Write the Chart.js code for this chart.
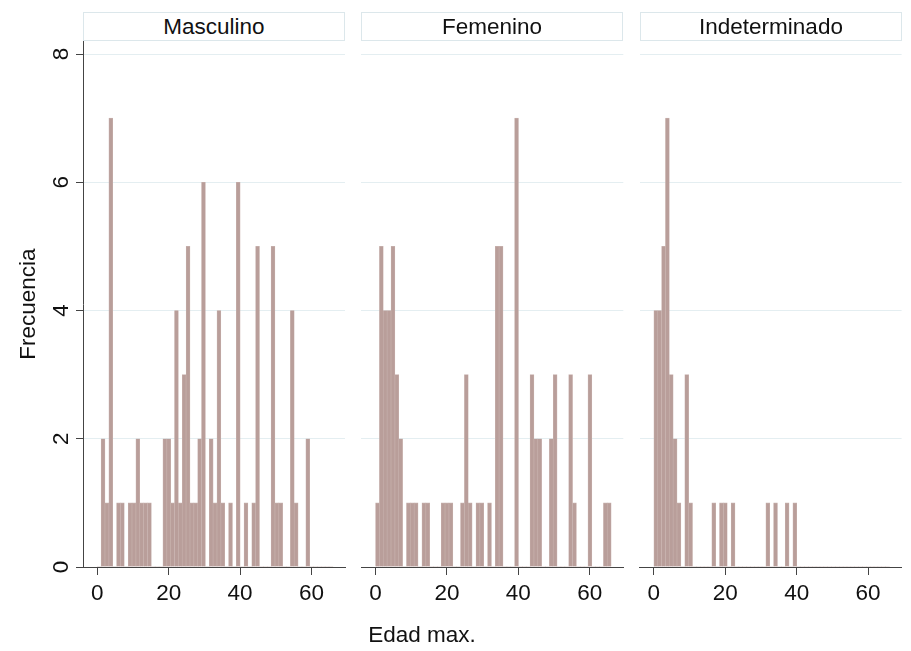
<!DOCTYPE html>
<html>
<head>
<meta charset="utf-8">
<script src="https://cdn.jsdelivr.net/npm/chart.js@4.4.1/dist/chart.umd.min.js"></script>
<style>
html,body{margin:0;padding:0;background:#fff;}
#wrap{position:relative;width:911px;height:651px;overflow:hidden;font-family:"Liberation Sans",Arial,sans-serif;color:#111;background:#fff;}
#wrap canvas{position:absolute;left:0;top:0;}
.hdr{position:absolute;top:12px;height:27px;width:260px;border:1px solid #dce7eb;text-align:center;font-size:22.5px;line-height:28px;color:#111;background:#fff;}
#xt{position:absolute;left:322px;width:200px;top:623px;text-align:center;font-size:22.5px;line-height:24px;color:#111;}
</style>
</head>
<body>
<div id="wrap">
  <canvas id="c1" width="911" height="651"></canvas>
  <canvas id="c2" width="911" height="651"></canvas>
  <canvas id="c3" width="911" height="651"></canvas>
  <div class="hdr" style="left:83px">Masculino</div>
  <div class="hdr" style="left:361px">Femenino</div>
  <div class="hdr" style="left:640px">Indeterminado</div>
  <div id="xt">Edad max.</div>
</div>
<script>
// Bin centres (Edad max.), bin width about 1.08 years
const binCenters = [0.54,1.62,2.71,3.79,4.87,5.95,7.03,8.12,9.20,10.28,
  11.36,12.44,13.53,14.61,15.69,16.77,17.85,18.93,20.02,21.10,
  22.18,23.26,24.34,25.43,26.51,27.59,28.67,29.75,30.84,31.92,
  33.00,34.08,35.16,36.25,37.33,38.41,39.49,40.57,41.66,42.74,
  43.82,44.90,45.98,47.07,48.15,49.23,50.31,51.39,52.48,53.56,
  54.64,55.72,56.80,57.89,58.97,60.05,61.13,62.21,63.30,64.38,65.46];

const panelTitles = ["Masculino","Femenino","Indeterminado"];

const masculino = [0,2,1,7,0,1,1,0,1,1,
  2,1,1,1,0,0,0,2,2,1,
  4,1,3,5,1,1,2,6,0,2,
  1,4,1,0,1,0,6,0,1,0,
  1,5,0,0,0,5,1,1,0,0,
  4,1,0,0,2,0,0,0,0,0,0];

const femenino = [1,5,4,4,5,3,2,0,1,1,
  1,0,1,1,0,0,0,1,1,1,
  0,0,1,3,1,0,1,1,0,1,
  0,5,5,0,0,0,7,0,0,0,
  3,2,2,0,0,2,3,0,0,0,
  3,1,0,0,0,3,0,0,0,1,1];

const indeterminado = [4,4,5,7,3,2,1,0,3,1,
  0,0,0,0,0,1,0,1,1,0,
  1,0,0,0,0,0,0,0,0,1,
  0,1,0,0,1,0,1,0,0,0,
  0,0,0,0,0,0,0,0,0,0,
  0,0,0,0,0,0,0,0,0,0,0];

const xTicks = [0,20,40,60];
const yTicks = [0,2,4,6,8];

const FONT = '"Liberation Sans", Arial, sans-serif';
const FSIZE = 22.5;
const BAR = '#b99e9a';
const GRID = '#e4eef1';
const AXIS = '#444444';
const TEXT = '#111111';

const panelLeft = [83, 361.3, 639.6];
const panelWidth = 262;
const plotTop = 41.2;
const plotBottom = 567;

const yRotLabels = {
  id: 'yRotLabels',
  afterDraw(chart) {
    if (!chart.options.plugins.yRotLabels || !chart.options.plugins.yRotLabels.show) return;
    const s = chart.scales.y, ctx = chart.ctx;
    ctx.save();
    ctx.font = FSIZE + 'px ' + FONT;
    ctx.fillStyle = TEXT;
    ctx.textAlign = 'center';
    ctx.textBaseline = 'alphabetic';
    s.ticks.forEach(t => {
      if (!yTicks.includes(t.value)) return;
      const y = s.getPixelForValue(t.value);
      ctx.save();
      ctx.translate(67.5, y);
      ctx.rotate(-Math.PI / 2);
      ctx.fillText(String(t.value), 0, 0);
      ctx.restore();
    });
    ctx.restore();
  }
};

function makeChart(id, counts, idx) {
  const first = idx === 0;
  const left = panelLeft[idx];
  const data = binCenters.map((x, i) => ({x: x, y: counts[i]}));
  return new Chart(document.getElementById(id), {
    type: 'bar',
    data: {
      datasets: [{
        label: panelTitles[idx],
        data: data,
        backgroundColor: BAR,
        borderColor: '#c8b2ae',
        borderWidth: ctx => (ctx.raw && ctx.raw.y > 0 ? 0.6 : 0),
        borderSkipped: 'bottom',
        categoryPercentage: 1.0,
        barPercentage: 1.0
      }]
    },
    options: {
      responsive: false,
      animation: false,
      devicePixelRatio: 1,
      layout: {
        padding: {
          left: first ? 0 : left,
          right: 911 - (left + panelWidth),
          top: plotTop,
          bottom: 0
        }
      },
      plugins: {
        legend: {display: false},
        tooltip: {enabled: false},
        title: {display: false},
        yRotLabels: {show: first}
      },
      scales: {
        x: {
          type: 'linear',
          min: -4,
          max: 69.4,
          offset: false,
          afterFit: s => { s.height = 651 - plotBottom; },
          afterBuildTicks: s => { s.ticks = xTicks.map(v => ({value: v})); },
          ticks: {
            stepSize: 20,
            includeBounds: false,
            autoSkip: false,
            maxRotation: 0,
            minRotation: 0,
            padding: 5,
            color: TEXT,
            font: {family: FONT, size: FSIZE}
          },
          grid: {
            offset: false,
            drawOnChartArea: false,
            drawTicks: true,
            tickLength: 8,
            tickColor: AXIS,
            tickWidth: 1
          },
          border: {display: true, color: AXIS, width: 1}
        },
        y: {
          min: 0,
          max: 8.2,
          afterFit: s => { s.width = first ? left : 0; },
          ticks: {
            stepSize: 2,
            includeBounds: false,
            display: false
          },
          grid: {
            offset: false,
            color: GRID,
            lineWidth: 1,
            drawTicks: first,
            tickLength: 7,
            tickColor: AXIS
          },
          border: {display: first, color: AXIS, width: 1},
          title: {
            display: first,
            text: 'Frecuencia',
            color: TEXT,
            font: {family: FONT, size: FSIZE},
            padding: {top: 15, bottom: 0}
          }
        }
      }
    },
    plugins: [yRotLabels]
  });
}

makeChart('c1', masculino, 0);
makeChart('c2', femenino, 1);
makeChart('c3', indeterminado, 2);
</script>
</body>
</html>
